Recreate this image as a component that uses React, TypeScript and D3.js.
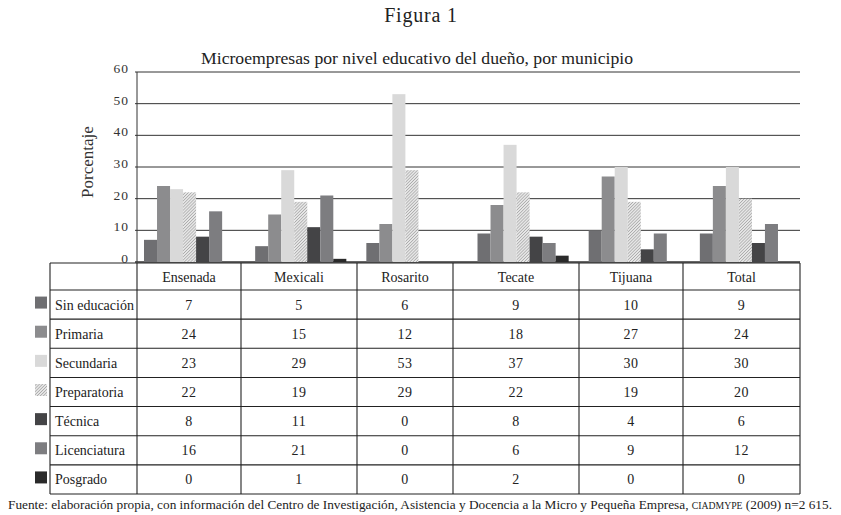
import React from "react";
import * as d3 from "d3";

const municipios = ["Ensenada", "Mexicali", "Rosarito", "Tecate", "Tijuana", "Total"];
const niveles = ["Sin educación", "Primaria", "Secundaria", "Preparatoria", "Técnica", "Licenciatura", "Posgrado"];
const sinEducacion = [7, 5, 6, 9, 10, 9];
const primaria = [24, 15, 12, 18, 27, 24];
const secundaria = [23, 29, 53, 37, 30, 30];
const preparatoria = [22, 19, 29, 22, 19, 20];
const tecnica = [8, 11, 0, 8, 4, 6];
const licenciatura = [16, 21, 0, 6, 9, 12];
const posgrado = [0, 1, 0, 2, 0, 0];
const yTicks = [0, 10, 20, 30, 40, 50, 60];

const series = [sinEducacion, primaria, secundaria, preparatoria, tecnica, licenciatura, posgrado];
const fills = ["#6f6f72", "#8c8c8e", "#d9d9d9", "url(#hatch)", "#444446", "#7d7d80", "#2a2a2a"];

const W = 841, H = 515;
const plotLeft = 137, plotRight = 800, plotTop = 72, plotBottom = 262;
// table layout
const colEdges = [50, 137, 241, 357, 453, 579, 683, 800];
const tableTop = 263, headerBottom = 290, tableBottom = 494;
const FONT = "'Liberation Serif', 'DejaVu Serif', serif";

export default function App() {
  const y = d3.scaleLinear().domain([0, 60]).range([plotBottom, plotTop]);
  const x0 = d3.scaleBand<string>().domain(municipios).range([134, 801]).paddingInner(0.18).paddingOuter(0.09);
  const x1 = d3.scaleBand<string>().domain(niveles).range([0, x0.bandwidth()]).padding(0);
  const rowH = (tableBottom - headerBottom) / niveles.length;
  const rowY = d3.scaleLinear().domain([0, niveles.length]).range([headerBottom, tableBottom]);

  return (
    <svg width={W} height={H} style={{ position: "absolute", left: 0, top: 0, background: "#fff" }} fontFamily={FONT}>
      <defs>
        <pattern id="hatch" width="2.2" height="2.2" patternUnits="userSpaceOnUse" patternTransform="rotate(45)">
          <rect width="2.2" height="2.2" fill="#e6e6e6" />
          <line x1="0" y1="0" x2="0" y2="2.2" stroke="#8e8e8e" strokeWidth="1" />
        </pattern>
      </defs>
      <rect width={W} height={H} fill="#fff" />
      <text x={421} y={22} textAnchor="middle" fontSize={20} fill="#222" letterSpacing={0.8}>Figura 1</text>
      <text x={417} y={64} textAnchor="middle" fontSize={16.5} fill="#222" textLength={432} lengthAdjust="spacingAndGlyphs">
        Microempresas por nivel educativo del dueño, por municipio
      </text>
      <text transform={`translate(93,${(plotTop + plotBottom) / 2 - 5}) rotate(-90)`} textAnchor="middle" fontSize={17} fill="#333">
        Porcentaje
      </text>
      {yTicks.map((t) => (
        <g key={t}>
          <line x1={plotLeft - 2} x2={plotRight} y1={y(t)} y2={y(t)} stroke="#333" strokeWidth={t === 0 ? 1.6 : 1} />
          <text x={plotLeft - 8} y={y(t) + 1} textAnchor="end" fontSize={13.5} fill="#333" letterSpacing={1}>{t}</text>
        </g>
      ))}
      <line x1={plotLeft} x2={plotLeft} y1={plotTop} y2={plotBottom} stroke="#333" strokeWidth={1} />
      {municipios.map((m, i) => (
        <g key={m} transform={`translate(${x0(m)},0)`}>
          {series.map((s, j) =>
            s[i] > 0 ? (
              <rect key={j} x={x1(niveles[j])} y={y(s[i])} width={x1.bandwidth()} height={plotBottom - y(s[i])} fill={fills[j]} />
            ) : null
          )}
        </g>
      ))}
      {/* table */}
      <g stroke="#222" strokeWidth={1.1}>
        <line x1={colEdges[0]} x2={colEdges[colEdges.length - 1]} y1={tableTop} y2={tableTop} />
        {d3.range(niveles.length + 1).map((k) => (
          <line key={k} x1={colEdges[0]} x2={colEdges[colEdges.length - 1]} y1={rowY(k)} y2={rowY(k)} />
        ))}
        {colEdges.map((c, k) => (
          <line key={k} x1={c} x2={c} y1={tableTop} y2={tableBottom} />
        ))}
      </g>
      {municipios.map((m, i) => (
        <text key={m} x={(colEdges[i + 1] + colEdges[i + 2]) / 2} y={(tableTop + headerBottom) / 2 + 5} textAnchor="middle" fontSize={14} fill="#222">
          {m}
        </text>
      ))}
      {niveles.map((n, j) => {
        const cy = rowY(j) + rowH / 2;
        return (
          <g key={n}>
            <rect x={35} y={cy - 8} width={12} height={12} fill={fills[j]} />
            <text x={55} y={cy + 5} fontSize={14} fill="#222">{n}</text>
            {municipios.map((m, i) => (
              <text key={m} x={(colEdges[i + 1] + colEdges[i + 2]) / 2} y={cy + 5} textAnchor="middle" fontSize={14} fill="#222" letterSpacing={0.5}>
                {series[j][i]}
              </text>
            ))}
          </g>
        );
      })}
      <text x={8} y={509} fontSize={13} fill="#222" textLength={824} lengthAdjust="spacingAndGlyphs">
        Fuente: elaboración propia, con información del Centro de Investigación, Asistencia y Docencia a la Micro y Pequeña Empresa,{" "}
        <tspan fontSize={9.5}>CIADMYPE</tspan> (2009) n=2 615.
      </text>
    </svg>
  );
}
